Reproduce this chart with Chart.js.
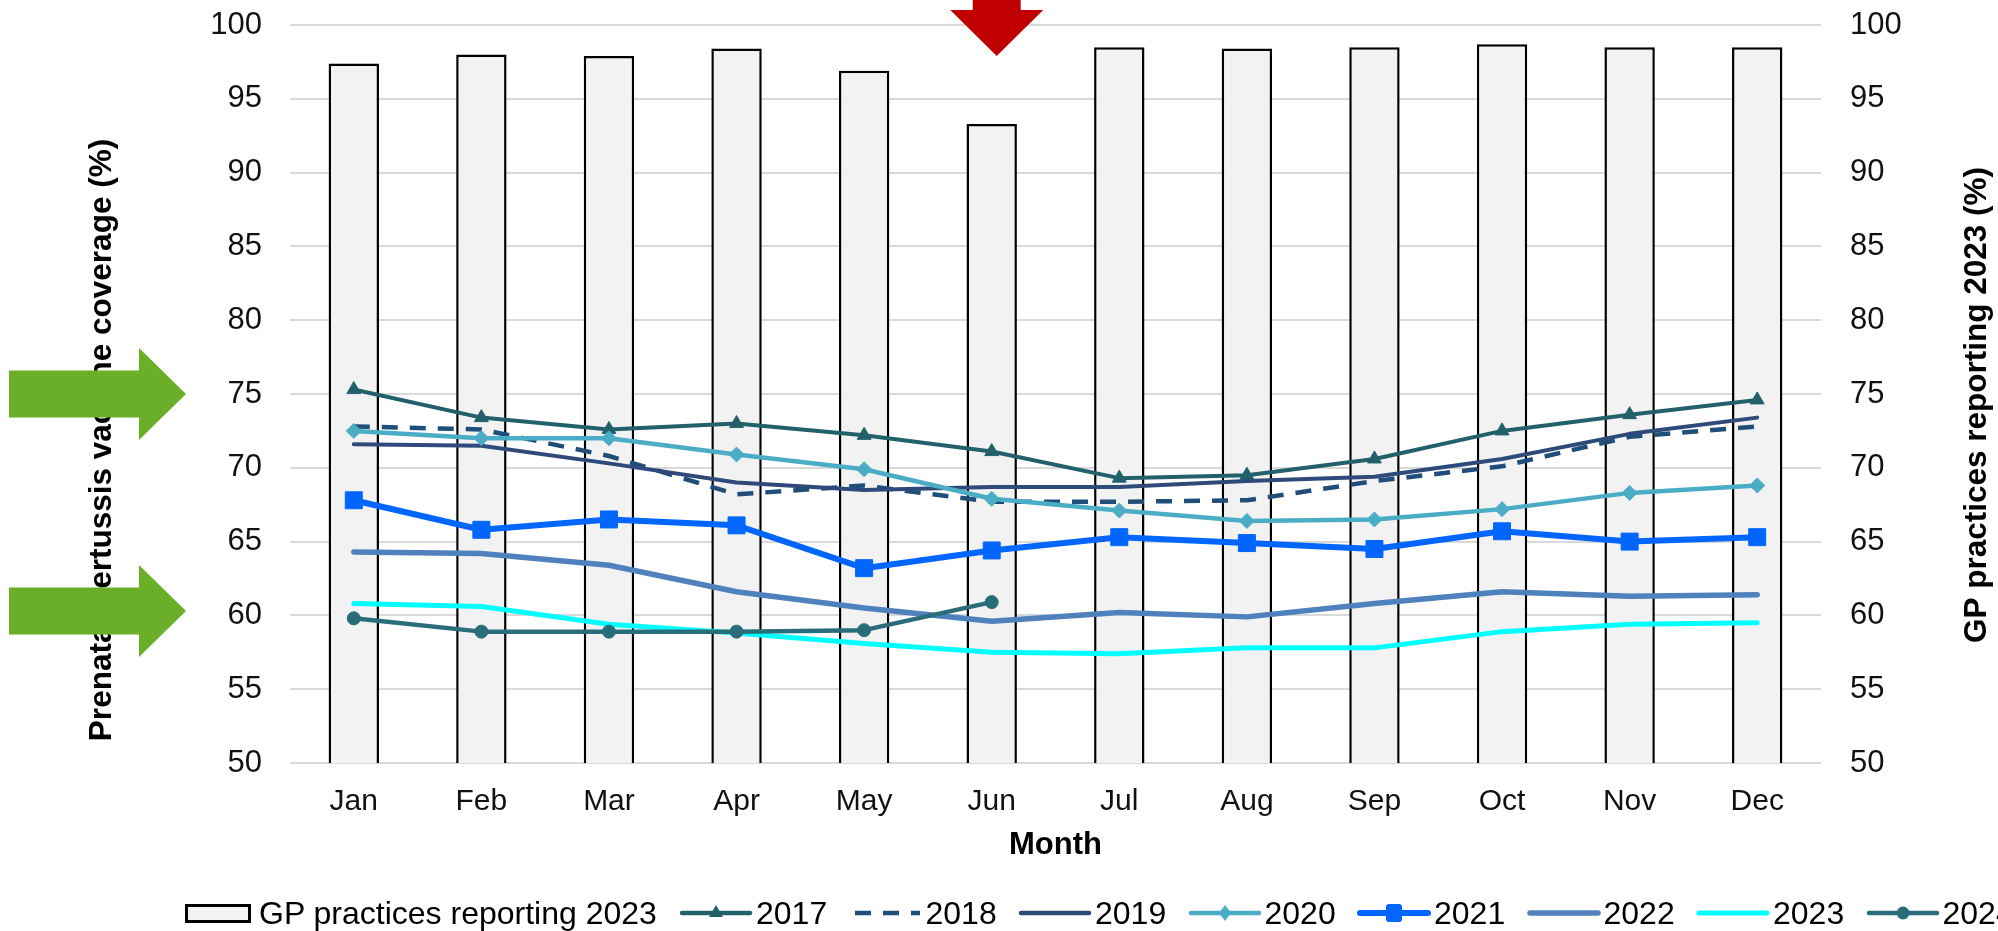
<!DOCTYPE html>
<html>
<head>
<meta charset="utf-8">
<title>Prenatal pertussis vaccine coverage</title>
<script src="https://cdn.jsdelivr.net/npm/chart.js@4.4.1/dist/chart.umd.min.js"></script>
<style>
  html, body { margin: 0; padding: 0; background: #ffffff; overflow: hidden; }
  #wrap { position: relative; width: 1998px; height: 931px; overflow: hidden; background: #ffffff; }
  #chart { position: absolute; left: 0; top: 0; }
  #legend { position: absolute; left: 0; top: 895px; width: 1998px; height: 36px;
            font-family: "Liberation Sans", Arial, sans-serif; font-size: 32px; color: #000; white-space: nowrap; }
  .item { position: absolute; top: 0; height: 36px; display: flex; align-items: center; }
  .item svg { display: block; }
  .swatch-bar { width: 60px; height: 13px; border: 3px solid #000; background: #f2f2f2; }
</style>
</head>
<body>
<div id="wrap">
  <canvas id="chart" width="1998" height="931"></canvas>
  <div id="legend"></div>
</div>
<script>
// ---- data ----
const months = ['Jan', 'Feb', 'Mar', 'Apr', 'May', 'Jun', 'Jul', 'Aug', 'Sep', 'Oct', 'Nov', 'Dec'];
const coverageTicks = [50, 55, 60, 65, 70, 75, 80, 85, 90, 95, 100];

const gpReporting2023 = [97.4, 98.0, 97.9, 98.4, 96.9, 93.3, 98.5, 98.4, 98.5, 98.7, 98.5, 98.5];
const coverage2017 = [75.3, 73.4, 72.6, 73.0, 72.2, 71.1, 69.3, 69.5, 70.6, 72.5, 73.6, 74.6];
const coverage2018 = [72.8, 72.6, 70.8, 68.2, 68.8, 67.7, 67.7, 67.8, 69.1, 70.1, 72.1, 72.8];
const coverage2019 = [71.6, 71.5, 70.3, 69.0, 68.5, 68.7, 68.7, 69.1, 69.4, 70.6, 72.3, 73.4];
const coverage2020 = [72.5, 72.0, 72.0, 70.9, 69.9, 67.9, 67.1, 66.4, 66.5, 67.2, 68.3, 68.8];
const coverage2021 = [67.8, 65.8, 66.5, 66.1, 63.2, 64.4, 65.3, 64.9, 64.5, 65.7, 65.0, 65.3];
const coverage2022 = [64.3, 64.2, 63.4, 61.6, 60.5, 59.6, 60.2, 59.9, 60.8, 61.6, 61.3, 61.4];
const coverage2023 = [60.8, 60.6, 59.4, 58.8, 58.1, 57.5, 57.4, 57.8, 57.8, 58.9, 59.4, 59.5];
const coverage2024 = [59.8, 58.9, 58.9, 58.9, 59.0, 60.9];

const barLabel = 'GP practices reporting 2023';
const leftTitle = 'Prenatal pertussis vaccine coverage (%)';
const rightTitle = 'GP practices reporting 2023 (%)';
const xTitle = 'Month';

// highlighted coverage levels and month
const arrowLevels = [75, 60.3];
const arrowMonth = 'Jun';

// ---- styles ----
const FONT = '"Liberation Sans", Arial, sans-serif';
const TICK_COLOR = '#111111';

function lineDataset(label, data, color, width, extra) {
  return Object.assign({
    type: 'line', label, data,
    yAxisID: 'y',
    borderColor: color, backgroundColor: color,
    borderWidth: width,
    pointRadius: 0, pointHoverRadius: 0,
    pointBorderColor: color, pointBackgroundColor: color, pointBorderWidth: 1,
    tension: 0, fill: false,
    borderJoinStyle: 'round', borderCapStyle: 'round'
  }, extra || {});
}

const datasets = [
  {
    type: 'bar', label: barLabel, data: gpReporting2023, yAxisID: 'y2',
    backgroundColor: '#f2f2f2', borderColor: '#000000', borderWidth: 2.5,
    barPercentage: 0.395, categoryPercentage: 1.0, order: 20
  },
  lineDataset('2017', coverage2017, '#22606b', 4, { pointStyle: 'triangle', pointRadius: 8, order: 8 }),
  lineDataset('2018', coverage2018, '#1f4e79', 4.5, { borderDash: [16, 12], borderCapStyle: 'butt', order: 7 }),
  lineDataset('2019', coverage2019, '#2d4a7a', 4, { order: 6 }),
  lineDataset('2020', coverage2020, '#4bacc6', 4.5, { pointStyle: 'rectRot', pointRadius: 7.5, order: 5 }),
  lineDataset('2021', coverage2021, '#0066ff', 6, { pointStyle: 'rect', pointRadius: 12, order: 4 }),
  lineDataset('2022', coverage2022, '#4f81bd', 5.5, { order: 3 }),
  lineDataset('2023', coverage2023, '#00ffff', 5, { order: 2 }),
  lineDataset('2024', coverage2024, '#2a6d7a', 4.5, { pointStyle: 'circle', pointRadius: 6.5, order: 1 })
];

// axis titles and highlight arrows drawn on top of the chart
const decorations = {
  id: 'decorations',
  afterDraw(chart) {
    const { ctx } = chart;
    const x = chart.scales.x, y = chart.scales.y;
    ctx.save();
    ctx.fillStyle = '#000000';
    ctx.textAlign = 'center';
    ctx.textBaseline = 'alphabetic';
    ctx.font = 'bold 31.5px ' + FONT;

    ctx.save();
    ctx.translate(111, 440);
    ctx.rotate(-Math.PI / 2);
    ctx.fillText(leftTitle, 0, 0);
    ctx.restore();

    ctx.save();
    ctx.translate(1986, 405);
    ctx.rotate(-Math.PI / 2);
    ctx.fillText(rightTitle, 0, 0);
    ctx.restore();

    // green arrows pointing at coverage levels
    ctx.fillStyle = '#6bae28';
    arrowLevels.forEach(level => {
      const ty = y.getPixelForValue(level);
      const tipX = 186, neckX = 139, tailX = 9, shaftH = 23.5, headH = 46;
      ctx.beginPath();
      ctx.moveTo(tailX, ty - shaftH);
      ctx.lineTo(neckX, ty - shaftH);
      ctx.lineTo(neckX, ty - headH);
      ctx.lineTo(tipX, ty);
      ctx.lineTo(neckX, ty + headH);
      ctx.lineTo(neckX, ty + shaftH);
      ctx.lineTo(tailX, ty + shaftH);
      ctx.closePath();
      ctx.fill();
    });

    // red arrow pointing down at the month
    const cx = x.getPixelForValue(months.indexOf(arrowMonth)) + 5;
    ctx.fillStyle = '#c00000';
    ctx.beginPath();
    ctx.moveTo(cx - 24, -5);
    ctx.lineTo(cx + 24, -5);
    ctx.lineTo(cx + 24, 10);
    ctx.lineTo(cx + 46.5, 10);
    ctx.lineTo(cx, 56);
    ctx.lineTo(cx - 46.5, 10);
    ctx.lineTo(cx - 24, 10);
    ctx.closePath();
    ctx.fill();
    ctx.restore();
  }
};

const setTicks = scale => { scale.ticks = coverageTicks.map(v => ({ value: v })); };
// fixed axis widths; tick padding should not push the plot area inward vertically
const fitVertical = width => s => { s.width = width; s.paddingTop = 0; s.paddingBottom = 0; };

const chart = new Chart(document.getElementById('chart'), {
  type: 'bar',
  data: { labels: months, datasets },
  options: {
    responsive: false,
    animation: false,
    devicePixelRatio: 1,
    layout: { padding: { top: 25, bottom: 63, left: 0, right: 0 } },
    plugins: { legend: { display: false }, tooltip: { enabled: false } },
    scales: {
      x: {
        offset: true,
        grid: { display: false, drawTicks: false },
        border: { display: false },
        ticks: { color: TICK_COLOR, font: { family: FONT, size: 30 }, padding: 21, maxRotation: 0 },
        title: { display: true, text: xTitle, color: '#000', font: { family: FONT, size: 31, weight: 'bold' }, padding: { top: 0, bottom: 4 } },
        afterFit: s => { s.height = 105; }
      },
      y: {
        position: 'left', min: 50, max: 100,
        afterBuildTicks: setTicks,
        grid: { color: '#d9d9d9', lineWidth: 2, drawTicks: false },
        border: { display: false },
        ticks: { color: TICK_COLOR, font: { family: FONT, size: 31 }, padding: 28 },
        afterFit: fitVertical(290)
      },
      y2: {
        position: 'right', min: 50, max: 100,
        afterBuildTicks: setTicks,
        grid: { display: false, drawTicks: false },
        border: { display: false },
        ticks: { color: TICK_COLOR, font: { family: FONT, size: 31 }, padding: 29 },
        afterFit: fitVertical(177)
      }
    }
  },
  plugins: [decorations]
});

// ---- legend ----
function markerSvg(style, color, cx, cy) {
  switch (style) {
    case 'triangle': return `<polygon points="${cx},${cy - 8} ${cx + 7},${cy + 4} ${cx - 7},${cy + 4}" fill="${color}"/>`;
    case 'rectRot': return `<polygon points="${cx},${cy - 8} ${cx + 6},${cy} ${cx},${cy + 8} ${cx - 6},${cy}" fill="${color}"/>`;
    case 'rect': return `<rect x="${cx - 8}" y="${cy - 9}" width="16" height="18" rx="3" fill="${color}"/>`;
    case 'circle': return `<circle cx="${cx}" cy="${cy}" r="6.5" fill="${color}"/>`;
    default: return '';
  }
}

const legend = document.getElementById('legend');
chart.data.datasets.forEach((ds, i) => {
  const item = document.createElement('div');
  item.className = 'item';
  if (ds.type === 'bar') {
    item.style.left = '185px';
    item.innerHTML = `<div class="swatch-bar"></div><span style="margin-left:8px">${ds.label}</span>`;
  } else {
    const left = 679 + (i - 1) * 169.5;
    item.style.left = left + 'px';
    const w = 74, h = 24, cy = h / 2;
    const dash = ds.borderDash ? `stroke-dasharray="${ds.borderDash.join(' ')}"` : '';
    const cap = ds.borderDash ? 'butt' : 'round';
    const x0 = ds.borderDash ? 6 : 3;
    const svg = `<svg width="${w}" height="${h}" viewBox="0 0 ${w} ${h}">` +
      `<line x1="${x0}" y1="${cy}" x2="${w - 3}" y2="${cy}" stroke="${ds.borderColor}" stroke-width="${Math.max(ds.borderWidth, 4.5)}" stroke-linecap="${cap}" ${dash}/>` +
      markerSvg(ds.pointStyle, ds.borderColor, w / 2, cy) + `</svg>`;
    item.innerHTML = svg + `<span style="margin-left:3px">${ds.label}</span>`;
  }
  legend.appendChild(item);
});
</script>
</body>
</html>
